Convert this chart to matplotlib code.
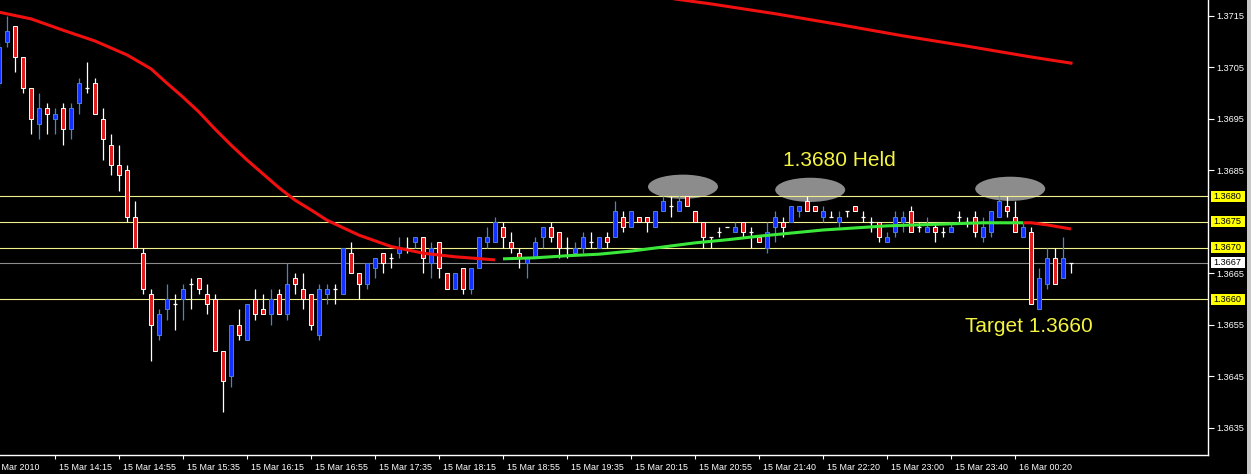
import matplotlib.pyplot as plt
import matplotlib.transforms as mtransforms
from matplotlib.patches import Rectangle, Ellipse
import numpy as np

# EURUSD M5 bars, first bar is the partly hidden one at the left edge
opens = [1.3702, 1.3710, 1.3713, 1.3707, 1.3701, 1.3694, 1.3697, 1.3695, 1.3697, 1.3693,
         1.3698, 1.3701, 1.3702, 1.3695, 1.3690, 1.3686, 1.3685, 1.3676, 1.3669, 1.3661,
         1.3653, 1.3658, 1.3659, 1.3660, 1.3663, 1.3664, 1.3661, 1.3660, 1.3650, 1.3645,
         1.3655, 1.3652, 1.3660, 1.3658, 1.3657, 1.3661, 1.3657, 1.3664, 1.3662, 1.3661,
         1.3653, 1.3661, 1.3662, 1.3661, 1.3669, 1.3665, 1.3663, 1.3666, 1.3669, 1.3668,
         1.3669, 1.3670, 1.3671, 1.3672, 1.3667, 1.3671, 1.3665, 1.3662, 1.3666, 1.3662,
         1.3666, 1.3671, 1.3671, 1.3674, 1.3671, 1.3669, 1.3667, 1.3668, 1.3672, 1.3674,
         1.3673, 1.3670, 1.3669, 1.3670, 1.3671, 1.3670, 1.3672, 1.3672, 1.3676, 1.3674,
         1.3676, 1.3676, 1.3674, 1.3677, 1.3678, 1.3677, 1.3680, 1.3677, 1.3675, 1.3672,
         1.3673, 1.3674, 1.3673, 1.3675, 1.3673, 1.3672, 1.3670, 1.3674, 1.3675, 1.3675,
         1.3677, 1.3679, 1.3678, 1.3676, 1.3676, 1.3675, 1.3677, 1.3678, 1.3676, 1.3675,
         1.3675, 1.3671, 1.3673, 1.3675, 1.3677, 1.3674, 1.3673, 1.3674, 1.3673, 1.3673,
         1.3676, 1.3675, 1.3676, 1.3672, 1.3673, 1.3676, 1.3678, 1.3676, 1.3672, 1.3673,
         1.3658, 1.3663, 1.3668, 1.3664, 1.3667]
highs = [1.3710, 1.3715, 1.3713, 1.3707, 1.3701, 1.3700, 1.3698, 1.3697, 1.3698, 1.3698,
         1.3703, 1.3706, 1.3703, 1.3697, 1.3692, 1.3690, 1.3686, 1.3679, 1.3670, 1.3662,
         1.3658, 1.3663, 1.3661, 1.3663, 1.3664, 1.3664, 1.3663, 1.3661, 1.3650, 1.3655,
         1.3658, 1.3659, 1.3662, 1.3661, 1.3662, 1.3662, 1.3667, 1.3665, 1.3665, 1.3661,
         1.3663, 1.3663, 1.3663, 1.3670, 1.3671, 1.3665, 1.3667, 1.3668, 1.3669, 1.3669,
         1.3672, 1.3672, 1.3672, 1.3672, 1.3671, 1.3671, 1.3665, 1.3665, 1.3666, 1.3666,
         1.3672, 1.3674, 1.3676, 1.3675, 1.3673, 1.3670, 1.3668, 1.3672, 1.3674, 1.3675,
         1.3673, 1.3672, 1.3671, 1.3673, 1.3673, 1.3672, 1.3673, 1.3679, 1.3677, 1.3677,
         1.3676, 1.3676, 1.3677, 1.3680, 1.3680, 1.3680, 1.3680, 1.3677, 1.3675, 1.3672,
         1.3674, 1.3674, 1.3675, 1.3675, 1.3674, 1.3672, 1.3675, 1.3677, 1.3676, 1.3678,
         1.3678, 1.3680, 1.3678, 1.3678, 1.3677, 1.3677, 1.3677, 1.3678, 1.3677, 1.3676,
         1.3675, 1.3673, 1.3677, 1.3677, 1.3678, 1.3675, 1.3676, 1.3675, 1.3674, 1.3675,
         1.3677, 1.3676, 1.3677, 1.3676, 1.3677, 1.3680, 1.3680, 1.3679, 1.3675, 1.3674,
         1.3666, 1.3670, 1.3670, 1.3672, 1.3667]
lows = [1.3701, 1.3709, 1.3704, 1.3700, 1.3692, 1.3691, 1.3692, 1.3692, 1.3690, 1.3691,
        1.3696, 1.3700, 1.3696, 1.3687, 1.3684, 1.3681, 1.3675, 1.3670, 1.3661, 1.3648,
        1.3652, 1.3656, 1.3654, 1.3656, 1.3658, 1.3661, 1.3657, 1.3650, 1.3638, 1.3643,
        1.3652, 1.3652, 1.3656, 1.3657, 1.3655, 1.3657, 1.3656, 1.3661, 1.3658, 1.3654,
        1.3652, 1.3659, 1.3659, 1.3661, 1.3665, 1.3660, 1.3662, 1.3664, 1.3665, 1.3666,
        1.3668, 1.3669, 1.3670, 1.3665, 1.3664, 1.3664, 1.3662, 1.3662, 1.3661, 1.3661,
        1.3666, 1.3670, 1.3671, 1.3670, 1.3669, 1.3666, 1.3664, 1.3668, 1.3670, 1.3671,
        1.3668, 1.3668, 1.3669, 1.3669, 1.3670, 1.3670, 1.3670, 1.3672, 1.3673, 1.3674,
        1.3675, 1.3673, 1.3674, 1.3677, 1.3676, 1.3677, 1.3678, 1.3675, 1.3670, 1.3670,
        1.3672, 1.3674, 1.3673, 1.3672, 1.3670, 1.3671, 1.3669, 1.3671, 1.3672, 1.3675,
        1.3676, 1.3677, 1.3677, 1.3675, 1.3676, 1.3674, 1.3676, 1.3677, 1.3675, 1.3673,
        1.3671, 1.3671, 1.3672, 1.3673, 1.3673, 1.3673, 1.3673, 1.3671, 1.3672, 1.3673,
        1.3675, 1.3674, 1.3672, 1.3671, 1.3672, 1.3676, 1.3676, 1.3673, 1.3672, 1.3659,
        1.3658, 1.3662, 1.3663, 1.3664, 1.3665]
closes = [1.3709, 1.3712, 1.3707, 1.3701, 1.3695, 1.3697, 1.3696, 1.3696, 1.3693, 1.3697,
          1.3702, 1.3701, 1.3696, 1.3691, 1.3686, 1.3684, 1.3676, 1.3670, 1.3662, 1.3655,
          1.3657, 1.3660, 1.3659, 1.3662, 1.3663, 1.3662, 1.3659, 1.3650, 1.3644, 1.3655,
          1.3653, 1.3659, 1.3657, 1.3657, 1.3660, 1.3657, 1.3663, 1.3663, 1.3660, 1.3655,
          1.3662, 1.3662, 1.3662, 1.3670, 1.3665, 1.3663, 1.3667, 1.3668, 1.3667, 1.3668,
          1.3670, 1.3670, 1.3672, 1.3668, 1.3670, 1.3666, 1.3662, 1.3665, 1.3662, 1.3666,
          1.3672, 1.3672, 1.3675, 1.3672, 1.3670, 1.3668, 1.3668, 1.3671, 1.3674, 1.3672,
          1.3670, 1.3670, 1.3670, 1.3672, 1.3671, 1.3672, 1.3671, 1.3677, 1.3674, 1.3677,
          1.3675, 1.3675, 1.3677, 1.3679, 1.3678, 1.3679, 1.3678, 1.3675, 1.3672, 1.3672,
          1.3673, 1.3674, 1.3674, 1.3673, 1.3673, 1.3671, 1.3673, 1.3676, 1.3674, 1.3678,
          1.3678, 1.3677, 1.3677, 1.3677, 1.3676, 1.3676, 1.3677, 1.3677, 1.3676, 1.3675,
          1.3672, 1.3672, 1.3676, 1.3676, 1.3673, 1.3674, 1.3674, 1.3673, 1.3673, 1.3674,
          1.3676, 1.3675, 1.3673, 1.3674, 1.3677, 1.3679, 1.3677, 1.3673, 1.3674, 1.3659,
          1.3664, 1.3668, 1.3663, 1.3668, 1.3667]

# moving averages, read at a few bars
fast_red_bars = [-1, 3, 7, 11, 15, 18, 20, 22, 24, 26, 28, 30, 32, 34, 36, 38, 40, 44, 48, 52, 56, 61]
fast_red = [1.37157, 1.37144, 1.37122, 1.37101, 1.37074, 1.37047, 1.37019, 1.36992, 1.36963, 1.36930,
            1.36899, 1.36870, 1.36843, 1.36816, 1.36792, 1.36773, 1.36753, 1.36724, 1.36702, 1.36689,
            1.36682, 1.36676]
fast_green_bars = [62, 66, 70, 74, 78, 82, 86, 90, 94, 98, 102, 106, 110, 114, 118, 122, 127]
fast_green = [1.36678, 1.36680, 1.36684, 1.36687, 1.36693, 1.36701, 1.36709, 1.36715, 1.36722, 1.36728,
              1.36734, 1.36738, 1.36742, 1.36744, 1.36746, 1.36748, 1.36748]
fast_red2_bars = [127, 128, 130, 133]
fast_red2 = [1.36748, 1.36748, 1.36744, 1.36736]
slow_bars = [80, 88, 96, 104, 112, 120, 128, 133]
slow_ma = [1.37190, 1.37173, 1.37154, 1.37133, 1.37111, 1.37091, 1.37070, 1.37058]

levels = [1.3680, 1.3675, 1.3670, 1.3660]
bid = 1.3667
y_ticks = [1.3715, 1.3705, 1.3695, 1.3685, 1.3665, 1.3655, 1.3645, 1.3635]

time_labels = ['15 Mar 2010', '15 Mar 14:15', '15 Mar 14:55', '15 Mar 15:35', '15 Mar 16:15',
               '15 Mar 16:55', '15 Mar 17:35', '15 Mar 18:15', '15 Mar 18:55', '15 Mar 19:35',
               '15 Mar 20:15', '15 Mar 20:55', '15 Mar 21:40', '15 Mar 22:20', '15 Mar 23:00',
               '15 Mar 23:40', '16 Mar 00:20']

tops_bars = [84.5, 100.4, 125.4]
tops_y = [1.36818, 1.36812, 1.36814]

bars = np.arange(-1, -1 + len(opens))

plt.rcParams['font.family'] = ['Liberation Sans', 'DejaVu Sans']

W, H = 1251, 474
fig = plt.figure(figsize=(W / 100, H / 100), dpi=100, facecolor='black')
ax = fig.add_axes([0, 19 / H, 1208 / W, 455 / H])
ax.set_facecolor('black')

# gray ellipses marking the three tops
for bx, by in zip(tops_bars, tops_y):
    ax.add_patch(Ellipse((bx, by), 8.75, 0.00047, facecolor='#8c8c8c', edgecolor='none', zorder=1))

for lv in levels:
    ax.axhline(lv, color='#f0f08c', lw=0.8, zorder=2)
ax.axhline(bid, color='#8c8c8c', lw=0.8, zorder=2)

# candles
bw = 0.6
for x, o, h, l, c in zip(bars, opens, highs, lows, closes):
    if c > o:
        ax.vlines(x, l, h, color='#4d80d6', lw=0.9, zorder=3)
        ax.add_patch(Rectangle((x - bw / 2, o), bw, c - o, facecolor='#1432ff',
                               edgecolor='#4d80d6', lw=0.7, zorder=4))
    elif c < o:
        ax.vlines(x, l, h, color='white', lw=0.9, zorder=3)
        ax.add_patch(Rectangle((x - bw / 2, c), bw, o - c, facecolor='#dc1e1e',
                               edgecolor='white', lw=0.7, zorder=4))
    else:
        ax.vlines(x, l, h, color='white', lw=0.9, zorder=3)
        ax.hlines(o, x - bw / 2, x + bw / 2, color='white', lw=0.9, zorder=3)

ax.plot(fast_red_bars, fast_red, color='#f01010', lw=2.2, zorder=5, solid_capstyle='butt')
ax.plot(fast_green_bars, fast_green, color='#3ae83a', lw=2.2, zorder=5, solid_capstyle='butt')
ax.plot(fast_red2_bars, fast_red2, color='#f01010', lw=2.2, zorder=5, solid_capstyle='butt')
ax.plot(slow_bars, slow_ma, color='#f01010', lw=2.2, zorder=5)

ax.text(97, 1.36868, '1.3680 Held', color='#f5f540', fontsize=15, ha='left', va='center', zorder=6)
ax.text(119.75, 1.36546, 'Target 1.3660', color='#f5f540', fontsize=15, ha='left', va='center', zorder=6)

# frame
for s in ['left', 'top']:
    ax.spines[s].set_visible(False)
for s in ['right', 'bottom']:
    ax.spines[s].set_color('white')
    ax.spines[s].set_linewidth(1)

ax.yaxis.tick_right()
ax.set_yticks(y_ticks)
ax.set_yticklabels([f'{v:.4f}' for v in y_ticks])
ax.tick_params(axis='y', colors='white', length=4, width=0.8, pad=2, labelsize=6.6)

tick_bars = [-2 + 8 * i for i in range(len(time_labels))]
ax.set_xticks(tick_bars)
ax.set_xticklabels([''] * len(tick_bars))
ax.tick_params(axis='x', colors='white', length=3, width=0.8)

# limits after the ticks, set_xticks would widen them
ax.set_xlim(-0.875, 150.125)
ax.set_ylim(1.362971, 1.371806)

# first date label runs off the left edge, as in the terminal
tr = mtransforms.blended_transform_factory(ax.transData, fig.transFigure)
for i, (tb, lab) in enumerate(zip(tick_bars, time_labels)):
    off = -0.3 if i == 0 else 0.5
    ax.text(tb + off, 6.5 / H, lab, color='white', fontsize=6.4, ha='left', va='center',
            transform=tr, clip_on=False)

# price boxes on the right scale
tr2 = mtransforms.blended_transform_factory(fig.transFigure, ax.transData)
box_h = 11 / 51500
for lv, face in [(l, '#ffff00') for l in levels] + [(bid, 'white')]:
    fig.patches.append(Rectangle((1211 / W, lv - box_h / 2), 34 / W, box_h, facecolor=face,
                                 edgecolor='none', transform=tr2, figure=fig, zorder=5))
    fig.text(1213 / W, lv, f'{lv:.4f}', color='black', fontsize=6.6, ha='left', va='center',
             transform=tr2, zorder=6)

fig.patches.append(Rectangle((1247 / W, 0), 4 / W, 1, facecolor='#c8c8c8', edgecolor='none',
                             transform=fig.transFigure, figure=fig))

fig.savefig('out.png', dpi=100, facecolor='black')
